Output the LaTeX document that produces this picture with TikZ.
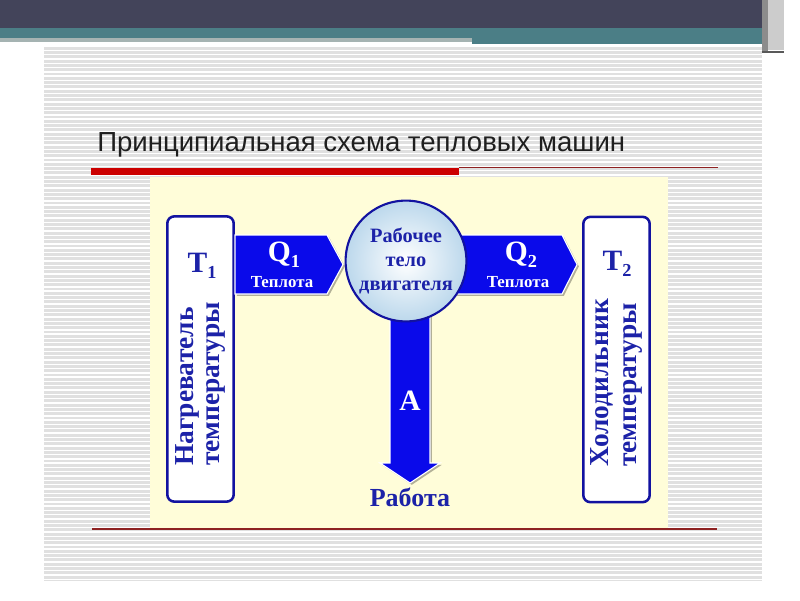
\documentclass[tikz,border=0pt]{standalone}
\usepackage{fontspec}
\setmainfont{Liberation Serif}
\newfontfamily\titlefont{Liberation Sans}
\usetikzlibrary{positioning,calc,shadows}

\definecolor{slidedark}{HTML}{43445A}
\definecolor{slideteal}{HTML}{4B7E86}
\definecolor{slidegray}{HTML}{A5B3B2}
\definecolor{stripe}{HTML}{E0E0E0}
\definecolor{panel}{HTML}{FFFDD9}
\definecolor{titlered}{HTML}{CC0000}
\definecolor{linered}{HTML}{8E2222}
\definecolor{flowblue}{HTML}{0A0AEA}
\definecolor{inkblue}{HTML}{1C22A8}
\definecolor{rimblue}{HTML}{1212A0}
\definecolor{ballblue}{HTML}{BCD8EC}

\newcommand{\lowidx}[1]{\raisebox{-0.5ex}{\fontsize{13}{13}\selectfont #1}}

\begin{document}
\begin{tikzpicture}[x=0.025cm,y=-0.025cm,
		box/.style={draw=rimblue, line width=1.8pt, fill=white, rounded corners=5pt,
				minimum width=1.66cm, minimum height=7.13cm, inner sep=0pt},
		flow/.style={fill=flowblue, draw=white, line width=0.8pt,
				drop shadow={shadow xshift=1.3pt, shadow yshift=-1.3pt, opacity=0.3, fill=black}},
		bigsym/.style={font=\bfseries\fontsize{21}{21}\selectfont, inner sep=0pt, anchor=base},
		smalltext/.style={font=\bfseries\fontsize{12}{12}\selectfont, inner sep=0pt, anchor=base},
		sidetext/.style={font=\bfseries\fontsize{19.5}{19.5}\selectfont, text=inkblue, inner sep=0pt,
				rotate=90, anchor=base west},]
	\useasboundingbox (0,0) rectangle (800,600);
	\fill[white] (0,0) rectangle (800,600);

	% slide background
	\fill[stripe] (44,45) rectangle (762,581);
	\foreach \y in {46,50.3,...,580}
		\draw[white, line width=1pt] (44,\y) -- (762,\y);
	\fill[slidedark] (0,0) rectangle (768,28);
	\fill[slideteal] (0,28) rectangle (768,38);
	\fill[slidegray] (0,38) rectangle (472,42);
	\fill[slideteal] (472,38) rectangle (762,44);
	\fill[black!45] (762,0) rectangle (768,52);
	\fill[black!20] (768,0) rectangle (784,50);
	\draw[black!65, line width=1pt] (762,52) -- (784,52);

	\node (title) [anchor=base west, inner sep=0pt, text=black!88,
		font=\titlefont\fontsize{19.6}{19.6}\selectfont] at (97,151)
	{Принципиальная схема тепловых машин};
	\fill[titlered] (91,168) rectangle (459,175);
	\draw[linered, line width=0.8pt] (459,167.5) -- (718,167.5);

	% diagram
	\fill[panel] (150,177) rectangle (668,528);
	\draw[linered, line width=0.8pt] (92,529) -- (717,529);

	\node (heater) [box] at (200.5,359) {};
	\node (cooler) [box] at (616.5,359.5) {};

	\path[flow] (heater.east |- 0,235) -- (327,235) -- (343,264.5) -- (327,294)
		-- (heater.east |- 0,294) -- cycle;
	\path[flow] (455,235) -- (562,235) -- ($(cooler.west |- 0,264.5)+(-5,0)$) -- (562,294)
		-- (455,294) -- cycle;
	\path[flow] (390,300) -- (430,300) -- (430,463) -- (440,463) -- (410,483)
		-- (380,463) -- (390,463) -- cycle;

	\node (engine) [circle, draw=rimblue, line width=1.5pt, minimum size=3.02cm, inner sep=0pt,
		inner color=white, outer color=ballblue, text=inkblue, align=center,
		font=\bfseries\fontsize{14.5}{17}\selectfont] at (406,261)
	{Рабочее\\тело\\двигателя};

	\node (t1) [bigsym, text=inkblue] at (202,272) {T\lowidx{1}};
	\node (t2) [bigsym, text=inkblue] at (617,270) {T\lowidx{2}};
	\node (q1) [bigsym, text=white] at (284,261) {Q\lowidx{1}};
	\node (q1heat) [smalltext, text=white] at (282,287) {Теплота};
	\node (q2) [bigsym, text=white] at (521,261) {Q\lowidx{2}};
	\node (q2heat) [smalltext, text=white] at (518,287) {Теплота};
	\node (work) [bigsym, text=white] at (410,410) {A};
	\node (workname) [bigsym, text=inkblue, font=\bfseries\fontsize{18.5}{18.5}\selectfont]
		at (410,506) {Работа};

	\node (heatname) [sidetext] at (193,466) {Нагреватель};
	\node (heattemp) [sidetext] at (219,466) {температуры};
	\node (coolname) [sidetext] at (608,467) {Холодильник};
	\node (cooltemp) [sidetext] at (636,467) {температуры};
\end{tikzpicture}
\end{document}
